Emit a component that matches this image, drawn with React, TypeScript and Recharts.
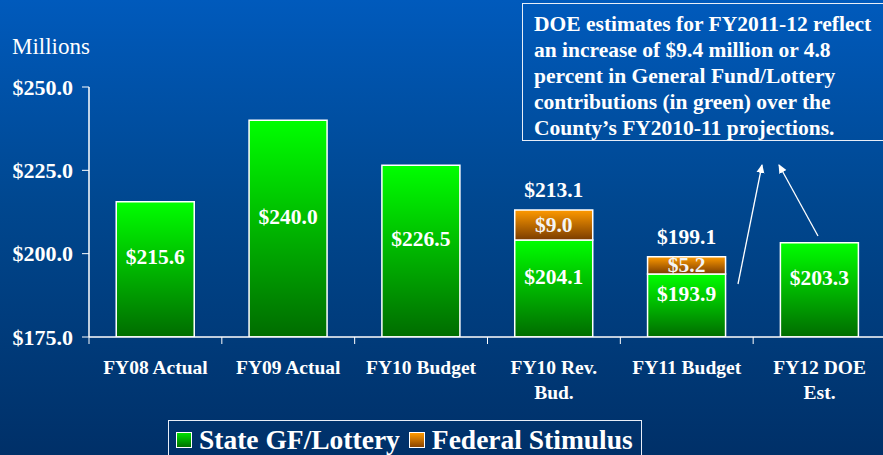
import { Bar, BarChart, LabelList, XAxis, YAxis } from "recharts"

const categories = ["FY08 Actual", "FY09 Actual", "FY10 Budget", "FY10 Rev.\nBud.", "FY11 Budget", "FY12 DOE\nEst."]
const stateGF = [215.6, 240.0, 226.5, 204.1, 193.9, 203.3]
const federal = [null, null, null, 9.0, 5.2, null]
const totals = [null, null, null, 213.1, 199.1, null]
const yTicks = [175, 200, 225, 250]

const data = categories.map((name, i) => ({
  name,
  state: stateGF[i],
  federal: federal[i],
  total: totals[i],
}))

const FONT = '"Liberation Serif", "Times New Roman", serif'

const money = (v: number) => `$${v.toFixed(1)}`

function CategoryTick(props: any) {
  const { x, y, payload } = props
  const half = payload && payload.offset ? payload.offset : 66
  const lines = String(payload.value).split("\n")
  return (
    <g>
      <line x1={x - half} x2={x - half} y1={y} y2={y + 7} stroke="#fff" strokeWidth={1} />
      <text x={x} y={y + 37} textAnchor="middle" fill="#fff" fontFamily={FONT} fontWeight="bold" fontSize={19.5}>
        {lines.map((l, i) => (
          <tspan key={i} x={x} dy={i === 0 ? 0 : 25}>
            {l}
          </tspan>
        ))}
      </text>
    </g>
  )
}

function InsideLabel(props: any) {
  const { x, y, width, height, value } = props
  if (value == null) return null
  return (
    <text x={x + width / 2} y={y + height / 2 - 12} textAnchor="middle" dominantBaseline="central" fill="#fff" fontFamily={FONT} fontWeight="bold" fontSize={21.5}>
      {money(value)}
    </text>
  )
}

function CenterLabel(props: any) {
  const { x, y, width, height, value } = props
  if (value == null) return null
  return (
    <text x={x + width / 2} y={y + height / 2} textAnchor="middle" dominantBaseline="central" fill="#f4f4f4" fontFamily={FONT} fontWeight="bold" fontSize={21.5}>
      {money(value)}
    </text>
  )
}

function TotalLabel(props: any) {
  const { x, y, width, value } = props
  if (value == null) return null
  return (
    <text x={x + width / 2} y={y - 20} textAnchor="middle" dominantBaseline="central" fill="#fff" fontFamily={FONT} fontWeight="bold" fontSize={21.5}>
      {money(value)}
    </text>
  )
}

export default function App() {
  return (
    <div
      style={{
        position: "absolute",
        left: 0,
        top: 0,
        width: 883,
        height: 455,
        overflow: "hidden",
        background: "linear-gradient(to bottom, #005abc 0%, #00478f 45%, #003068 100%)",
        fontFamily: FONT,
      }}
    >
      <div style={{ position: "absolute", left: 12, top: 33, color: "#fff", fontSize: 23, lineHeight: "28px" }}>Millions</div>

      <div style={{ position: "absolute", left: 0, top: 0 }}>
        <BarChart width={886} height={455} data={data} margin={{ top: 87, right: 0, bottom: 58, left: 0 }} barCategoryGap="20.5%">
          <defs>
            <linearGradient id="gGreen" x1="0" y1="0" x2="0" y2="1">
              <stop offset="0%" stopColor="#00ff00" />
              <stop offset="100%" stopColor="#006c00" />
            </linearGradient>
            <linearGradient id="gOrange" x1="0" y1="0" x2="0" y2="1">
              <stop offset="0%" stopColor="#ff9a00" />
              <stop offset="100%" stopColor="#7a3c00" />
            </linearGradient>
          </defs>
          <XAxis
            dataKey="name"
            height={60}
            interval={0}
            tickSize={0}
            tickMargin={0}
            tickLine={false}
            axisLine={{ stroke: "#fff", strokeWidth: 1.5 }}
            tick={<CategoryTick />}
          />
          <YAxis
            width={89}
            domain={[175, 250]}
            ticks={yTicks}
            allowDataOverflow
            tickFormatter={money}
            tickSize={7}
            tickLine={{ stroke: "#fff" }}
            axisLine={{ stroke: "#fff", strokeWidth: 1.5 }}
            tick={{ fill: "#fff", fontFamily: FONT, fontWeight: "bold", fontSize: 22 }}
            tickMargin={9}
          />
          <Bar dataKey="state" stackId="a" fill="url(#gGreen)" stroke="#fff" strokeWidth={1.5} isAnimationActive={false}>
            <LabelList dataKey="state" content={<InsideLabel />} />
          </Bar>
          <Bar dataKey="federal" stackId="a" fill="url(#gOrange)" stroke="#fff" strokeWidth={1.5} isAnimationActive={false}>
            <LabelList dataKey="federal" content={<CenterLabel />} />
            <LabelList dataKey="total" content={<TotalLabel />} />
          </Bar>
        </BarChart>
      </div>

      <svg width={883} height={455} style={{ position: "absolute", left: 0, top: 0, pointerEvents: "none" }}>
        <defs>
          <marker id="arrow" markerWidth="10" markerHeight="10" refX="8" refY="5" orient="auto" markerUnits="userSpaceOnUse">
            <path d="M0,1 L9,5 L0,9 z" fill="#fff" />
          </marker>
        </defs>
        <line x1={738} y1={284} x2={762} y2={165} stroke="#fff" strokeWidth={1.3} markerEnd="url(#arrow)" />
        <line x1={818} y1={236} x2={779} y2={165} stroke="#fff" strokeWidth={1.3} markerEnd="url(#arrow)" />
      </svg>

      <div
        style={{
          position: "absolute",
          left: 522,
          top: 3,
          width: 370,
          height: 138,
          border: "1.5px solid #e8eef8",
          boxSizing: "border-box",
          padding: "7px 0 0 11px",
          color: "#fff",
          fontWeight: "bold",
          fontSize: 21.5,
          lineHeight: "26px",
          whiteSpace: "nowrap",
        }}
      >
        DOE estimates for FY2011-12 reflect
        <br />
        an increase of $9.4 million or 4.8
        <br />
        percent in General Fund/Lottery
        <br />
        contributions (in green) over the
        <br />
        County’s FY2010-11 projections.
      </div>

      <div
        style={{
          position: "absolute",
          left: 168,
          top: 420,
          width: 474,
          height: 45,
          border: "1.5px solid #e8eef8",
          boxSizing: "border-box",
          display: "flex",
          alignItems: "flex-start",
          paddingTop: 4,
          paddingLeft: 7,
          color: "#fff",
          fontWeight: "bold",
          fontSize: 27.5,
          lineHeight: "30px",
          whiteSpace: "nowrap",
        }}
      >
        <span style={{ display: "inline-block", flex: "none", width: 16, height: 16, marginTop: 7, marginRight: 7, border: "1px solid #fff", boxSizing: "border-box", background: "linear-gradient(to bottom, #00e000, #007000)" }} />
        <span style={{ marginRight: 9 }}>State GF/Lottery</span>
        <span style={{ display: "inline-block", flex: "none", width: 16, height: 16, marginTop: 7, marginRight: 7, border: "1px solid #fff", boxSizing: "border-box", background: "linear-gradient(to bottom, #ff9a00, #8a4400)" }} />
        <span>Federal Stimulus</span>
      </div>
    </div>
  )
}
